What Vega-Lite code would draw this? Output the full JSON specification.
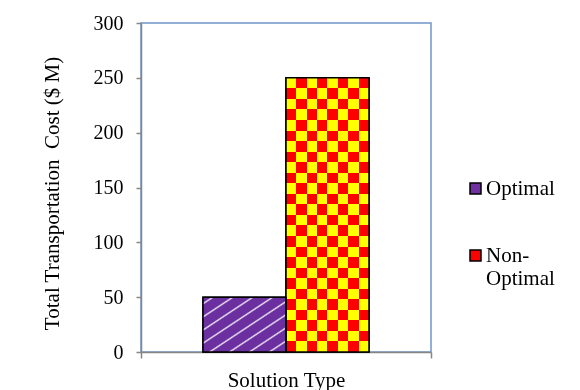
{
  "$schema": "https://vega.github.io/schema/vega-lite/v6.json",
  "width": 290,
  "height": 329,
  "autosize": {"type": "none"},
  "padding": {"left": 141, "top": 23, "right": 149, "bottom": 38},
  "background": "white",
  "config": {
    "view": {"stroke": "#6f97c9", "strokeWidth": 1.5},
    "font": "Liberation Serif"
  },
  "data": {
    "values": [
      {"solution": "Solution Type", "type": "Optimal", "cost": 50},
      {"solution": "Solution Type", "type": "Non-Optimal", "cost": 250}
    ]
  },
  "encoding": {
    "x": {
      "field": "solution",
      "type": "nominal",
      "scale": {"paddingInner": 0, "paddingOuter": 0},
      "axis": {
        "title": "Solution Type",
        "labels": false,
        "tickBand": "extent",
        "domainColor": "#868686",
        "domainWidth": 1.5,
        "tickColor": "#868686",
        "tickWidth": 1.5,
        "tickSize": 6,
        "titleFont": "Liberation Serif",
        "titleFontSize": 21,
        "titleFontWeight": "normal",
        "titleColor": "black",
        "titleBaseline": "alphabetic",
        "titleY": 34
      }
    },
    "xOffset": {
      "field": "type",
      "type": "nominal",
      "sort": ["Optimal", "Non-Optimal"],
      "scale": {"paddingInner": 0, "paddingOuter": 0.747}
    },
    "y": {
      "field": "cost",
      "type": "quantitative",
      "scale": {"domain": [0, 300]},
      "axis": {
        "values": [0, 50, 100, 150, 200, 250, 300],
        "title": "Total Transportation\u00a0 Cost ($ M)",
        "grid": false,
        "domainColor": "#868686",
        "domainWidth": 1.5,
        "tickColor": "#868686",
        "tickWidth": 1.5,
        "tickSize": 5,
        "labelFont": "Liberation Serif",
        "labelFontSize": 20,
        "labelColor": "black",
        "labelPadding": 13,
        "labelFlush": false,
        "labelOverlap": false,
        "titleFont": "Liberation Serif",
        "titleFontSize": 21,
        "titleFontWeight": "normal",
        "titleColor": "black",
        "titleAngle": -90,
        "titleAlign": "center",
        "titleBaseline": "alphabetic",
        "titleX": -83,
        "titleY": 170
      }
    }
  },
  "layer": [
    {
      "mark": {"type": "bar", "stroke": "black", "strokeWidth": 1.5},
      "encoding": {
        "color": {
          "field": "type",
          "type": "nominal",
          "sort": ["Optimal", "Non-Optimal"],
          "scale": {"range": ["#7030a0", "#ff0000"]},
          "legend": {
            "title": null,
            "orient": "none",
            "legendX": 324,
            "legendY": 155,
            "padding": 0,
            "direction": "vertical",
            "symbolType": "square",
            "symbolSize": 121,
            "symbolStrokeColor": "black",
            "symbolStrokeWidth": 1.5,
            "symbolOpacity": 1,
            "labelFont": "Liberation Serif",
            "labelFontSize": 21,
            "labelColor": "black",
            "labelOffset": 0,
            "labelLimit": 0,
            "rowPadding": 45,
            "labelExpr": "datum.label == 'Non-Optimal' ? ['Non-', 'Optimal'] : datum.label",
            "encode": {"labels": {"update": {"lineHeight": {"value": 23}}}}
          }
        }
      }
    },
    {
      "transform": [{"filter": "datum.type == 'Non-Optimal'"}],
      "mark": {
        "type": "bar",
        "fill": {
          "gradient": "linear",
          "x1": 0, "y1": 0, "x2": 1, "y2": 0,
          "stops": [
            {"offset": 0, "color": "#ffff00"}, {"offset": 0.125, "color": "#ffff00"},
            {"offset": 0.125, "color": "#ff0000"}, {"offset": 0.25, "color": "#ff0000"},
            {"offset": 0.25, "color": "#ffff00"}, {"offset": 0.375, "color": "#ffff00"},
            {"offset": 0.375, "color": "#ff0000"}, {"offset": 0.5, "color": "#ff0000"},
            {"offset": 0.5, "color": "#ffff00"}, {"offset": 0.625, "color": "#ffff00"},
            {"offset": 0.625, "color": "#ff0000"}, {"offset": 0.75, "color": "#ff0000"},
            {"offset": 0.75, "color": "#ffff00"}, {"offset": 0.875, "color": "#ffff00"},
            {"offset": 0.875, "color": "#ff0000"}, {"offset": 1, "color": "#ff0000"}
          ]
        }
      }
    },
    {
      "transform": [{"filter": "datum.type == 'Non-Optimal'"}],
      "mark": {
        "type": "bar",
        "blend": "difference",
        "fill": {
          "gradient": "linear",
          "x1": 0, "y1": 0, "x2": 0, "y2": 1,
          "stops": [
            {"offset": 0, "color": "#000000"}, {"offset": 0.0385, "color": "#000000"},
            {"offset": 0.0385, "color": "#00ff00"}, {"offset": 0.0769, "color": "#00ff00"},
            {"offset": 0.0769, "color": "#000000"}, {"offset": 0.1154, "color": "#000000"},
            {"offset": 0.1154, "color": "#00ff00"}, {"offset": 0.1538, "color": "#00ff00"},
            {"offset": 0.1538, "color": "#000000"}, {"offset": 0.1923, "color": "#000000"},
            {"offset": 0.1923, "color": "#00ff00"}, {"offset": 0.2308, "color": "#00ff00"},
            {"offset": 0.2308, "color": "#000000"}, {"offset": 0.2692, "color": "#000000"},
            {"offset": 0.2692, "color": "#00ff00"}, {"offset": 0.3077, "color": "#00ff00"},
            {"offset": 0.3077, "color": "#000000"}, {"offset": 0.3462, "color": "#000000"},
            {"offset": 0.3462, "color": "#00ff00"}, {"offset": 0.3846, "color": "#00ff00"},
            {"offset": 0.3846, "color": "#000000"}, {"offset": 0.4231, "color": "#000000"},
            {"offset": 0.4231, "color": "#00ff00"}, {"offset": 0.4615, "color": "#00ff00"},
            {"offset": 0.4615, "color": "#000000"}, {"offset": 0.5, "color": "#000000"},
            {"offset": 0.5, "color": "#00ff00"}, {"offset": 0.5385, "color": "#00ff00"},
            {"offset": 0.5385, "color": "#000000"}, {"offset": 0.5769, "color": "#000000"},
            {"offset": 0.5769, "color": "#00ff00"}, {"offset": 0.6154, "color": "#00ff00"},
            {"offset": 0.6154, "color": "#000000"}, {"offset": 0.6538, "color": "#000000"},
            {"offset": 0.6538, "color": "#00ff00"}, {"offset": 0.6923, "color": "#00ff00"},
            {"offset": 0.6923, "color": "#000000"}, {"offset": 0.7308, "color": "#000000"},
            {"offset": 0.7308, "color": "#00ff00"}, {"offset": 0.7692, "color": "#00ff00"},
            {"offset": 0.7692, "color": "#000000"}, {"offset": 0.8077, "color": "#000000"},
            {"offset": 0.8077, "color": "#00ff00"}, {"offset": 0.8462, "color": "#00ff00"},
            {"offset": 0.8462, "color": "#000000"}, {"offset": 0.8846, "color": "#000000"},
            {"offset": 0.8846, "color": "#00ff00"}, {"offset": 0.9231, "color": "#00ff00"},
            {"offset": 0.9231, "color": "#000000"}, {"offset": 0.9615, "color": "#000000"},
            {"offset": 0.9615, "color": "#00ff00"}, {"offset": 1, "color": "#00ff00"}
          ]
        }
      }
    },
    {
      "transform": [{"filter": "datum.type == 'Optimal'"}],
      "mark": {
        "type": "bar",
        "fill": {
          "gradient": "linear",
          "x1": 0, "y1": 0, "x2": 1, "y2": 1,
          "stops": [
            {"offset": 0, "color": "#6b2fa0"},
            {"offset": 0.045, "color": "#6b2fa0"}, {"offset": 0.06, "color": "#efe6f7"}, {"offset": 0.075, "color": "#6b2fa0"},
            {"offset": 0.165, "color": "#6b2fa0"}, {"offset": 0.18, "color": "#efe6f7"}, {"offset": 0.195, "color": "#6b2fa0"},
            {"offset": 0.285, "color": "#6b2fa0"}, {"offset": 0.30, "color": "#efe6f7"}, {"offset": 0.315, "color": "#6b2fa0"},
            {"offset": 0.405, "color": "#6b2fa0"}, {"offset": 0.42, "color": "#efe6f7"}, {"offset": 0.435, "color": "#6b2fa0"},
            {"offset": 0.525, "color": "#6b2fa0"}, {"offset": 0.54, "color": "#efe6f7"}, {"offset": 0.555, "color": "#6b2fa0"},
            {"offset": 0.645, "color": "#6b2fa0"}, {"offset": 0.66, "color": "#efe6f7"}, {"offset": 0.675, "color": "#6b2fa0"},
            {"offset": 0.765, "color": "#6b2fa0"}, {"offset": 0.78, "color": "#efe6f7"}, {"offset": 0.795, "color": "#6b2fa0"},
            {"offset": 0.885, "color": "#6b2fa0"}, {"offset": 0.90, "color": "#efe6f7"}, {"offset": 0.915, "color": "#6b2fa0"},
            {"offset": 1, "color": "#6b2fa0"}
          ]
        }
      }
    },
    {
      "mark": {"type": "bar", "fillOpacity": 0, "stroke": "black", "strokeWidth": 1.5}
    }
  ]
}
